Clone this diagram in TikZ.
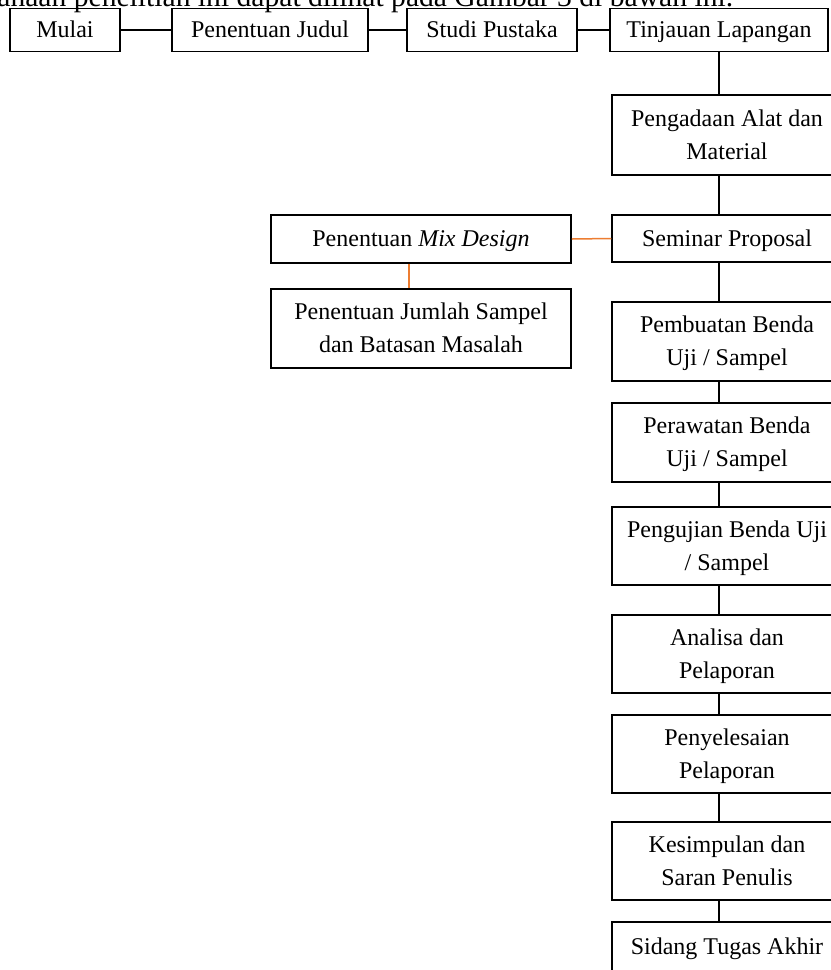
\documentclass[tikz,border=0pt]{standalone}
\usepackage{fontspec}
\setmainfont{Liberation Serif}
\definecolor{orangeline}{RGB}{237,125,49}
\begin{document}
\begin{tikzpicture}[x=0.5bp,y=-0.5bp,
  box/.style={draw, line width=0.75bp, inner sep=0pt, align=center,
    font=\fontsize{12bp}{16.5bp}\selectfont},
  one/.style={text height=8bp, text depth=0.5bp},
  two/.style={text height=24.5bp, text depth=0.5bp},
  topbox/.style={box, one, minimum height=21.5bp},
  colbox/.style={box, minimum width=115bp},
  leftbox/.style={box, minimum width=150bp},
  link/.style={line width=0.75bp, draw=black},
  olink/.style={line width=0.75bp, draw=orangeline}]
\useasboundingbox (0,0) rectangle (831,970);
\clip (0,0) rectangle (831,970);
\fill[white] (0,0) rectangle (831,970);

% cut-off caption line
\node[anchor=base west, inner sep=0pt, font=\fontsize{14.8bp}{16bp}\selectfont] (cap) at (-3,6)
  {anaan penelitian ini dapat dilihat pada Gambar 3 di bawah ini.};

% top row
\node[topbox, minimum width=55bp] (mulai) at (65,30) {Mulai};
\node[topbox, minimum width=98bp] (judul) at (270,30) {Penentuan Judul};
\node[topbox, minimum width=85bp] (studi) at (492,30) {Studi Pustaka};
\node[topbox, minimum width=109bp] (tinjau) at (719,30) {Tinjauan Lapangan};

% right column
\node[colbox, two, minimum height=40bp] (adaan) at (727,135) {Pengadaan Alat dan\\Material};
\node[colbox, one, minimum height=23.5bp] (seminar) at (727,238.5) {Seminar Proposal};
\node[colbox, two, minimum height=39.5bp] (buat) at (727,341.5) {Pembuatan Benda\\Uji / Sampel};
\node[colbox, two, minimum height=39.5bp] (rawat) at (727,442.5) {Perawatan Benda\\Uji / Sampel};
\node[colbox, two, minimum height=39bp] (uji) at (727,546) {Pengujian Benda Uji\\/ Sampel};
\node[colbox, two, minimum height=39bp] (analisa) at (727,654) {Analisa dan\\Pelaporan};
\node[colbox, two, minimum height=39bp] (selesai) at (727,754) {Penyelesaian\\Pelaporan};
\node[colbox, two, minimum height=39bp] (simpul) at (727,861) {Kesimpulan dan\\Saran Penulis};
\node[colbox, one, minimum height=25bp] (sidang) at (727,947) {Sidang Tugas Akhir};

% left branch
\node[leftbox, one, minimum height=24bp] (mix) at (421,239) {Penentuan \textit{Mix Design}};
\node[leftbox, two, minimum height=39.5bp] (jumlah) at (421,328.5) {Penentuan Jumlah Sampel\\dan Batasan Masalah};

\coordinate (jx) at (409,0);

% connectors
\draw[link] (mulai.east) -- (judul.west);
\draw[link] (judul.east) -- (studi.west);
\draw[link] (studi.east) -- (tinjau.west);
\draw[link] (tinjau.south) -- (adaan.north -| tinjau.south);
\foreach \a/\b in {adaan/seminar, seminar/buat, buat/rawat, rawat/uji, uji/analisa,
                   analisa/selesai, selesai/simpul, simpul/sidang}
  \draw[link] (\a.south -| tinjau.south) -- (\b.north -| tinjau.south);
\draw[olink] (mix.east) -- (seminar.west);
\draw[olink] (mix.south -| jx) -- (jumlah.north -| jx);
\end{tikzpicture}
\end{document}
